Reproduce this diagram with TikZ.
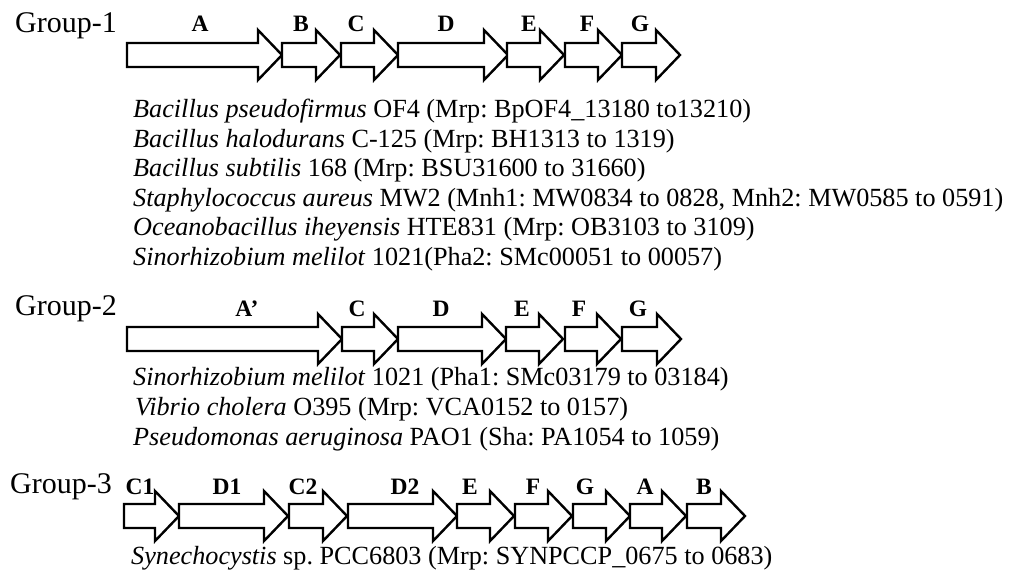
\documentclass[tikz,border=0pt]{standalone}
\usepackage{fontspec}
\setmainfont{Liberation Serif}
\frenchspacing
\tikzset{
  x=1pt,y=1pt,
  gene/.style={draw=black,fill=white,line width=2.4pt,line join=miter},
  genelbl/.style={font=\bfseries\fontsize{23.5}{26}\selectfont,inner sep=0pt,anchor=center},
  grouplbl/.style={font=\fontsize{30}{34}\selectfont,inner sep=0pt,anchor=west},
  species/.style={font=\fontsize{26.2}{30}\selectfont,inner sep=0pt,anchor=west},
}
% #1 name, #2 left x, #3 tip x, #4 centre y (image px, downwards)
\newcommand\genearrow[4]{%
  \draw[gene] (#2,{-#4+12}) -- ({#3-24},{-#4+12}) -- ({#3-24},{-#4+25}) -- (#3,-#4)
     -- ({#3-24},{-#4-25}) -- ({#3-24},{-#4-12}) -- (#2,{-#4-12}) -- cycle;
  \coordinate (#1) at ({(#2+#3)/2},-#4);
}
\begin{document}
\begin{tikzpicture}
\useasboundingbox (0,0) rectangle (1011,-579);
% ---------------- Group 1
\node[grouplbl] (g1) at (15,-26) {Group-1};
\genearrow{g1A}{127}{282}{55}
\genearrow{g1B}{282}{340}{55}
\genearrow{g1C}{341}{398}{55}
\genearrow{g1D}{398}{508}{55}
\genearrow{g1E}{507}{564}{55}
\genearrow{g1F}{565}{622}{55}
\genearrow{g1G}{622}{680}{55}
\node[genelbl] (l1A) at (200,-24) {A};
\node[genelbl] (l1B) at (301,-24) {B};
\node[genelbl] (l1C) at (356,-24) {C};
\node[genelbl] (l1D) at (446,-24) {D};
\node[genelbl] (l1E) at (529,-24) {E};
\node[genelbl] (l1F) at (587,-24) {F};
\node[genelbl] (l1G) at (640,-24) {G};
\node[species] (s11) at (133,-111) {\textit{Bacillus pseudofirmus} OF4 (Mrp: BpOF4\_13180 to13210)};
\node[species] (s12) at (133,-141) {\textit{Bacillus halodurans} C-125 (Mrp: BH1313 to 1319)};
\node[species] (s13) at (133,-170) {\textit{Bacillus subtilis} 168 (Mrp: BSU31600 to 31660)};
\node[species] (s14) at (133,-200) {\textit{Staphylococcus aureus} MW2 (Mnh1: MW0834 to 0828, Mnh2: MW0585 to 0591)};
\node[species] (s15) at (133,-229) {\textit{Oceanobacillus iheyensis} HTE831 (Mrp: OB3103 to 3109)};
\node[species] (s16) at (133,-259) {\textit{Sinorhizobium melilot} 1021(Pha2: SMc00051 to 00057)};
% ---------------- Group 2
\node[grouplbl] (g2) at (15,-309) {Group-2};
\genearrow{g2A}{127}{342}{339}
\genearrow{g2C}{342}{398}{339}
\genearrow{g2D}{398}{506}{339}
\genearrow{g2E}{506}{563}{339}
\genearrow{g2F}{565}{621}{339}
\genearrow{g2G}{622}{681}{339}
\node[genelbl] (l2A) at (247,-309) {A’};
\node[genelbl] (l2C) at (357,-309) {C};
\node[genelbl] (l2D) at (441,-309) {D};
\node[genelbl] (l2E) at (522,-309) {E};
\node[genelbl] (l2F) at (579,-309) {F};
\node[genelbl] (l2G) at (638,-309) {G};
\node[species] (s21) at (133,-379) {\textit{Sinorhizobium melilot} 1021 (Pha1: SMc03179 to 03184)};
\node[species] (s22) at (135,-409) {\textit{Vibrio cholera} O395 (Mrp: VCA0152 to 0157)};
\node[species] (s23) at (133,-439) {\textit{Pseudomonas aeruginosa} PAO1 (Sha: PA1054 to 1059)};
% ---------------- Group 3
\node[grouplbl] (g3) at (10,-487) {Group-3};
\genearrow{g3C1}{124}{179}{516}
\genearrow{g3D1}{179}{288}{516}
\genearrow{g3C2}{289}{347}{516}
\genearrow{g3D2}{348}{457}{516}
\genearrow{g3E}{457}{514}{516}
\genearrow{g3F}{515}{572}{516}
\genearrow{g3G}{573}{630}{516}
\genearrow{g3A}{630}{686}{516}
\genearrow{g3B}{687}{745}{516}
\node[genelbl] (l3C1) at (140,-487) {C1};
\node[genelbl] (l3D1) at (227,-487) {D1};
\node[genelbl] (l3C2) at (303,-487) {C2};
\node[genelbl] (l3D2) at (405,-487) {D2};
\node[genelbl] (l3E) at (470,-487) {E};
\node[genelbl] (l3F) at (533,-487) {F};
\node[genelbl] (l3G) at (585,-487) {G};
\node[genelbl] (l3A) at (645,-487) {A};
\node[genelbl] (l3B) at (704,-487) {B};
\node[species] (s31) at (131,-558) {\textit{Synechocystis} sp. PCC6803 (Mrp: SYNPCCP\_0675 to 0683)};
\end{tikzpicture}
\end{document}
